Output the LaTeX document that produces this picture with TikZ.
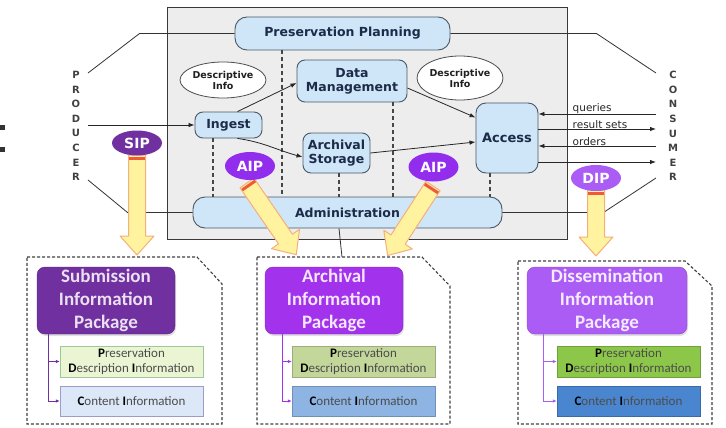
\documentclass[tikz,border=0pt]{standalone}
\usepackage{fontspec}
\setmainfont{DejaVu Sans}
\newfontfamily\calib{Carlito}
\usetikzlibrary{calc,arrows.meta,shapes.geometric,shadows}

\definecolor{panelbg}{HTML}{EDEDED}
\definecolor{boxblue}{HTML}{CFE5F8}
\definecolor{boxedge}{HTML}{4C5866}
\definecolor{navy}{HTML}{1C2C48}
\definecolor{sipP}{HTML}{7030A0}
\definecolor{aipP}{HTML}{A232EC}
\definecolor{dipP}{HTML}{AA5CF5}
\definecolor{armFill}{HTML}{FFF3A0}
\definecolor{armEdge}{HTML}{F4B07A}
\definecolor{armBand}{HTML}{EE5A3A}
\definecolor{sipGreen}{HTML}{EBF5D3}
\definecolor{sipBlue}{HTML}{DCE8F8}
\definecolor{aipGreen}{HTML}{C4D79B}
\definecolor{aipBlue}{HTML}{8DB4E2}
\definecolor{dipGreen}{HTML}{8DC74A}
\definecolor{dipBlue}{HTML}{4A86CF}

\tikzset{
  proc/.style={draw=boxedge, fill=boxblue, rounded corners=8pt, line width=0.9pt,
    font=\bfseries\fontsize{12.5}{14}\selectfont, text=navy, align=center, inner sep=0pt},
  info/.style={ellipse, draw=gray!60!black, fill=white, line width=0.8pt, inner sep=0pt,
    font=\bfseries\fontsize{9.5}{11}\selectfont, text=gray!25!black, align=center},
  arr/.style={draw=black!85, line width=0.8pt, -{Latex[length=6pt,width=4.5pt]}},
  plain/.style={draw=black!80, line width=0.8pt},
  dashln/.style={draw=gray!55!black, line width=1.5pt, dash pattern=on 4pt off 3pt},
  lbl/.style={font=\fontsize{10.5}{11}\selectfont, text=black!85, inner sep=0.5pt},
  letters/.style={font=\bfseries\fontsize{10}{14.6}\selectfont, text=black!75, align=center, inner sep=0pt},
  tag/.style={ellipse, minimum width=50pt, minimum height=26pt, inner sep=0pt, text=white,
    font=\bfseries\fontsize{14}{14}\selectfont},
  arm/.style={fill=armFill, draw=armEdge, line width=1pt, line join=round},
  band/.style={draw=armBand, line width=3pt},
  pkg/.style={draw=gray!50!black, line width=1.1pt, dash pattern=on 3pt off 2pt},
  title/.style={rounded corners=8pt, minimum width=138pt, minimum height=67pt, inner sep=0pt,
    align=center, font=\calib\bfseries\fontsize{19}{23}\selectfont,
    drop shadow={opacity=0.25, shadow xshift=1pt, shadow yshift=-2pt}},
  part/.style={minimum width=143pt, inner sep=0pt, align=center, text=black!70,
    font=\calib\fontsize{13}{15}\selectfont},
  tree/.style={line width=1pt, -{Latex[length=4pt,width=3.5pt]}},
}

% wide hollow arrow: tail point, canvas angle, length
\newcommand\bigarm[3]{%
  \begin{scope}[shift={#1}, rotate=#2]
    \draw[arm] (0,8.5) -- (#3-19,8.5) -- (#3-19,17) -- (#3,0) -- (#3-19,-17)
      -- (#3-19,-8.5) -- (0,-8.5) -- cycle;
    \draw[band] (3,8) -- (3,-8);
  \end{scope}}

\newcommand\pdi{\textbf{\color{black}P}reservation\\\textbf{\color{black}D}escription \textbf{\color{black}I}nformation}
\newcommand\cinfo{\textbf{\color{black}C}ontent \textbf{\color{black}I}nformation}

\begin{document}
\begin{tikzpicture}[x=1pt, y=-1pt]
\useasboundingbox (0,0) rectangle (726,428);

% partial glyph at the left edge
\fill[gray!40!black] (0,125) rectangle (5,130);
\fill[gray!40!black] (0,147) rectangle (5,152);

% functional panel
\draw[fill=panelbg, draw=gray!45!black, line width=1pt] (167,8) rectangle (567,239);

% entities
\node[proc, rounded corners=12pt, minimum width=215pt, minimum height=33pt] (plan) at (342.5,33.5) {Preservation Planning};
\node[proc, minimum width=67pt, minimum height=26pt] (ingest) at (228.5,125) {Ingest};
\node[proc, minimum width=110pt, minimum height=42pt] (dm) at (352,81) {Data\\Management};
\node[proc, minimum width=67pt, minimum height=40pt] (as) at (336.5,153) {Archival\\Storage};
\node[proc, minimum width=62pt, minimum height=70pt, rounded corners=10pt,
  font=\bfseries\fontsize{13}{14}\selectfont] (access) at (507,138) {Access};
\node[proc, rounded corners=12pt, minimum width=309pt, minimum height=31pt] (admin) at (347.5,212.5) {Administration};

\node[info, minimum width=84pt, minimum height=36pt] (desc1) at (223,80) {Descriptive\\Info};
\node[info, minimum width=85pt, minimum height=44pt] (desc2) at (460,78) {Descriptive\\Info};

% control lines between the entities and Administration
\coordinate (c1) at (213,0);
\coordinate (c2) at (282,0);
\coordinate (c3) at (339,0);
\coordinate (c4) at (393,0);
\coordinate (c5) at (490,0);
\draw[dashln] (ingest.south -| c1) -- (admin.north -| c1);
\draw[dashln] (plan.south -| c2) -- (admin.north -| c2);
\draw[dashln] (as.south -| c3) -- (admin.north -| c3);
\draw[dashln] (dm.south -| c4) -- (admin.north -| c4);
\draw[dashln] (access.south -| c5) -- (admin.north -| c5);

% data flow
\draw[arr] ([xshift=9pt]ingest.north) -- ([yshift=-2pt]dm.west);
\draw[arr] ([xshift=9pt]ingest.south) to[out=-8, in=165] ([yshift=-4pt]as.west);
\draw[arr] ([yshift=-7pt]dm.east) -- ([yshift=-15pt]access.north west);
\draw[arr] (as.east) -- ([yshift=-4pt]access.west);

% producer side
\node[letters] (producer) at (76,126) {P\\R\\O\\D\\U\\C\\E\\R};
\coordinate (prodTop) at (88,73);
\coordinate (prodMid) at (88,125);
\coordinate (prodBot) at (88,180);
\draw[plain] (plan.west) -- ++(-95,0) -- (prodTop);
\draw[arr] (prodMid) -- (ingest.west);
\draw[plain] (admin.west) -- ++(-65,0) -- (prodBot);

% consumer side
\node[letters] (consumer) at (673,126) {C\\O\\N\\S\\U\\M\\E\\R};
\coordinate (consTop) at (656,73);
\coordinate (consBot) at (656,178);
\coordinate (cq) at (656,114);
\coordinate (cr) at (656,129);
\coordinate (co) at (656,146);
\coordinate (cx) at (656,162);
\draw[plain] (plan.east) -- ++(146,0) -- (consTop);
\draw[plain] (admin.east) -- ++(101,0) -- (consBot);
\draw[arr] (cq) -- (cq -| access.east);
\draw[arr] (cr -| access.east) -- (cr);
\draw[arr] (co) -- (co -| access.east);
\draw[arr] (cx -| access.east) -- (cx);
\node[lbl, anchor=south west] (lq) at (572,114) {queries};
\node[lbl, anchor=south west] (lr) at (572,129) {result sets};
\node[lbl, anchor=south west] (lo) at (572,146) {orders};

% information packages
\draw[pkg] (27,257) -- (197,257) -- (222,284) -- (222,424) -- (27,424) -- cycle;
\draw[pkg] (257,257) -- (422,257) -- (450,286) -- (450,424) -- (257,424) -- cycle;
\draw[pkg] (518,261) -- (685,261) -- (712,286) -- (712,424) -- (518,424) -- cycle;

\draw[plain] (admin.south -| c3) -- (342,257);

% submission package
\node[title, fill=sipP, draw=sipP!80!black, text=white!85!sipP] (sipT) at (106,300.5)
  {Submission\\Information\\Package};
\node[part, fill=sipGreen, draw=green!30!gray!60, minimum height=31pt] (sipD) at (131.5,361.5) {\pdi};
\node[part, fill=sipBlue, draw=blue!30!gray!60, minimum height=30pt] (sipC) at (131.5,401) {\cinfo};
\coordinate (sipX) at (48,0);
\draw[tree, draw=sipP] (sipT.south -| sipX) |- (sipD.west);
\draw[tree, draw=sipP] (sipT.south -| sipX) |- (sipC.west);

% archival package
\node[title, fill=aipP, draw=aipP!80!black, text=white!88!aipP] (aipT) at (334,300.5)
  {Archival\\Information\\Package};
\node[part, fill=aipGreen, draw=aipGreen!80!black, minimum height=31pt] (aipD) at (363.5,361.5) {\pdi};
\node[part, fill=aipBlue, draw=aipBlue!80!black, minimum height=30pt] (aipC) at (363.5,401) {\cinfo};
\coordinate (aipX) at (282,0);
\draw[tree, draw=aipP] (aipT.south -| aipX) |- (aipD.west);
\draw[tree, draw=aipP] (aipT.south -| aipX) |- (aipC.west);

% dissemination package
\node[title, minimum width=160pt, fill=dipP, draw=dipP!80!black, text=white!88!dipP] (dipT) at (607,300.5)
  {Dissemination\\Information\\Package};
\node[part, fill=dipGreen, draw=dipGreen!80!black, minimum height=31pt] (dipD) at (628.5,361.5) {\pdi};
\node[part, fill=dipBlue, draw=dipBlue!80!black, minimum height=30pt] (dipC) at (628.5,401) {\cinfo};
\coordinate (dipX) at (543,0);
\draw[tree, draw=dipP] (dipT.south -| dipX) |- (dipD.west);
\draw[tree, draw=dipP] (dipT.south -| dipX) |- (dipC.west);

% package flow arrows
\bigarm{(137,155)}{-90}{100}
\bigarm{(247,183)}{-55.5}{87}
\bigarm{(433,186)}{-123.1}{83}
\bigarm{(596,190)}{-90}{66}

% package tags
\node[tag, fill=sipP, minimum height=25pt] (sipE) at (137,143) {SIP};
\node[tag, fill=aipP!90!blue, minimum height=28pt] (aipE1) at (250,166) {AIP};
\node[tag, fill=aipP!90!blue, minimum height=29pt] (aipE2) at (433.5,167) {AIP};
\node[tag, fill=dipP] (dipE) at (596,178) {DIP};
\end{tikzpicture}
\end{document}
